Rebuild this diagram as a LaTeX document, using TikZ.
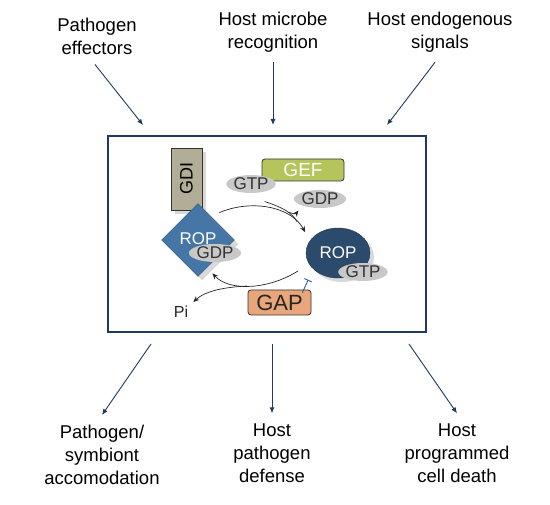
\documentclass[tikz,border=0pt]{standalone}
\usepackage{fontspec}
\setmainfont{Liberation Sans}
\usetikzlibrary{positioning, arrows.meta, shapes.geometric, shadows}

\definecolor{navy}{HTML}{1F3A5F}
\definecolor{gdifill}{HTML}{B2AD97}
\definecolor{ropblue}{HTML}{4676A6}
\definecolor{ropdark}{HTML}{2C4A6B}
\definecolor{geffill}{HTML}{B6C45C}
\definecolor{gapfill}{HTML}{E9A67A}
\definecolor{nucgray}{HTML}{C8C8C8}
\definecolor{nuctext}{HTML}{333333}
\definecolor{inhib}{HTML}{2F5C94}

\begin{document}
\begin{tikzpicture}[x=1pt, y=-1pt, font=\fontsize{18.5}{23}\selectfont,
  label/.style={align=center, inner sep=0pt},
  outarrow/.style={-{Latex[length=6pt,width=5pt]}, line width=0.9pt, navy},
  cycarrow/.style={-{Stealth[length=6pt,width=5pt]}, line width=0.7pt, black!85},
  nucleo/.style={ellipse, fill=nucgray, text=nuctext, minimum width=42pt, minimum height=18pt, inner sep=0pt, font=\fontsize{17}{17}\selectfont},
  protbox/.style={rectangle, rounded corners=3pt, draw=black!80, line width=0.8pt, inner sep=0pt},
  soft/.style={drop shadow={shadow xshift=4pt, shadow yshift=-4pt, opacity=0.15, fill=black}}
]
\useasboundingbox (0,0) rectangle (550,505);

% signals in
\node[label] (pe) at (97,36) {Pathogen\\effectors};
\node[label] (hmr) at (273,32) {Host microbe\\recognition};
\node[label] (hes) at (440,32) {Host endogenous\\signals};

% the cell
\node[draw=navy, line width=2pt, minimum width=318pt, minimum height=196pt] (cell) at (267,234) {};

% outputs
\node[label] (pa) at (102,455) {Pathogen/\\symbiont\\accomodation};
\node[label] (hpd) at (272,453) {Host\\pathogen\\defense};
\node[label] (pcd) at (457,453) {Host\\programmed\\cell death};

% ROP switch
\node[protbox, rounded corners=0pt, fill=gdifill, soft, rotate=90, minimum width=62pt, minimum height=31pt, font=\fontsize{18}{18}\selectfont] (gdi) at (186.5,179) {GDI};
\node[diamond, aspect=1, fill=ropblue, draw=ropblue!70!black, soft, minimum width=73pt, minimum height=73pt, inner sep=0pt, text=white, font=\fontsize{17}{17}\selectfont] (rop1) at (198,240) {\raisebox{3pt}{ROP}};
\node[nucleo] (gdp1) at (215,253) {GDP};

\node[protbox, fill=geffill, minimum width=82pt, minimum height=22pt, text=white, font=\fontsize{19}{19}\selectfont] (gef) at (303,170) {GEF};
\node[nucleo] (gtp1) at (251,184) {GTP};
\node[nucleo] (gdp2) at (320,199) {GDP};

\node[ellipse, fill=ropdark, draw=ropdark!70!black, soft, minimum width=64pt, minimum height=50pt, inner sep=0pt, text=white, font=\fontsize{17}{17}\selectfont] (rop2) at (338,253) {ROP};
\node[nucleo] (gtp2) at (363,272) {GTP};

\node[protbox, fill=gapfill, minimum width=63pt, minimum height=25pt, text=black!85, font=\fontsize{22}{22}\selectfont] (gap) at (279.5,302.5) {GAP};
\node[inner sep=0pt, text=black!85, font=\fontsize{16}{16}\selectfont] (pi) at (181,312) {Pi};

% activation
\draw[cycarrow] ([xshift=3pt,yshift=9pt]rop1.north east) .. controls +(30,-13) and +(-15,-27) .. ([xshift=-10pt,yshift=3pt]rop2.north west)
  coordinate[pos=0.85] (join);
\draw[line width=0.7pt, black!85] ([xshift=-4pt,yshift=-11pt]gtp1.south east) .. controls +(18,6) and +(-5,-9) .. (join)
  coordinate[pos=0.6] (split);
\draw[cycarrow] (split) .. controls +(7,2) .. ([xshift=-3pt,yshift=-5pt]gdp2.south west);

% hydrolysis
\draw[cycarrow] ([xshift=-17pt]rop2.south west) .. controls +(-28,18) and +(18,19) .. ([xshift=-4pt,yshift=-15pt]rop1.south east)
  coordinate[pos=0.55] (release);
\draw[cycarrow] (release) .. controls +(-22,1) and +(12,-11) .. ([xshift=5pt,yshift=4pt]pi.north east);
\draw[-{Bar[width=8pt]}, line width=0.9pt, inhib] ([xshift=-9pt,yshift=-3pt]gap.north east) -- ([xshift=-7pt,yshift=-9pt]rop2.south west);

% arrows
\draw[outarrow] ([xshift=-2pt,yshift=-10pt]pe.south) -- ([xshift=-124pt,yshift=10pt]cell.north);
\draw[outarrow] ([yshift=-10pt]hmr.south) -- ([xshift=6pt,yshift=10pt]cell.north);
\draw[outarrow] ([xshift=-5pt,yshift=-10pt]hes.south) -- ([xshift=120pt,yshift=10pt]cell.north);
\draw[outarrow] ([xshift=-116pt,yshift=-11pt]cell.south) -- ([yshift=10pt]pa.north);
\draw[outarrow] ([xshift=5pt,yshift=-11pt]cell.south) -- ([yshift=10pt]hpd.north);
\draw[outarrow] ([xshift=142pt,yshift=-11pt]cell.south) -- ([yshift=10pt]pcd.north);

\end{tikzpicture}
\end{document}
